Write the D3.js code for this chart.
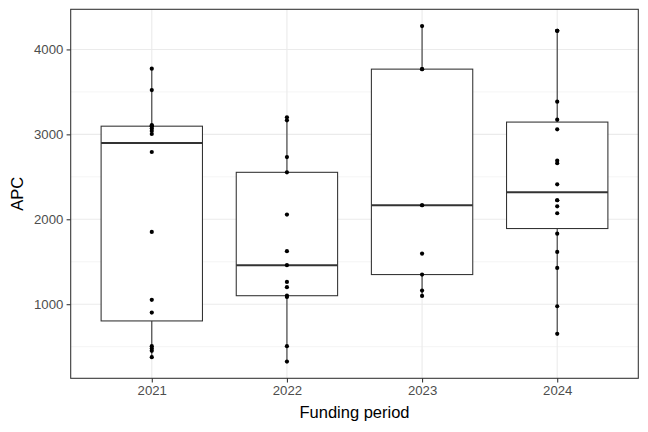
<!DOCTYPE html>
<html>
<head>
<meta charset="utf-8">
<script src="https://cdn.jsdelivr.net/npm/d3@7"></script>
<style>
  html, body { margin: 0; padding: 0; background: #fff; }
  svg { display: block; font-family: "Liberation Sans", Arial, Helvetica, sans-serif; }
</style>
</head>
<body>
<svg id="chart" width="648" height="432"></svg>
<script>
// ---- data ----
const categories = ["2021", "2022", "2023", "2024"];
const apc2021 = [3773, 3521, 3110, 3100, 3095, 3070, 3040, 3004, 2792, 1851, 1051, 902, 506, 478, 451, 376];
const apc2022 = [3200, 3165, 2733, 2553, 2055, 1624, 1459, 1262, 1200, 1100, 1085, 506, 325];
const apc2023 = [4275, 3768, 3768, 2165, 2165, 1596, 1349, 1161, 1098];
const apc2024 = [4220, 4220, 4220, 3385, 3173, 3059, 2690, 2660, 2412, 2224, 2224, 2153, 2071, 1831, 1616, 1427, 976, 651];
const yTicks = [1000, 2000, 3000, 4000];
const yMinorTicks = [500, 1500, 2500, 3500];
const xTitle = "Funding period";
const yTitle = "APC";

const seriesValues = [apc2021, apc2022, apc2023, apc2024];

// ---- layout ----
const W = 648, H = 432;
const panel = { left: 70.7, right: 638.3, top: 9.3, bottom: 378.3 };

const svg = d3.select("#chart");

// y scale with ggplot-like 5% expansion
const allVals = seriesValues.flat();
const [vmin, vmax] = d3.extent(allVals);
const pad = (vmax - vmin) * 0.05;
const y = d3.scaleLinear().domain([vmin - pad, vmax + pad]).range([panel.bottom, panel.top]);

// x: discrete with 0.6 unit expansion on each side
const n = categories.length;
const unit = (panel.right - panel.left) / (n - 1 + 1.2);
const x = d3.scalePoint().domain(categories).range([panel.left + 0.6 * unit, panel.right - 0.6 * unit]);
const boxW = 0.75 * unit;

// panel background
svg.append("rect").attr("x", panel.left).attr("y", panel.top)
  .attr("width", panel.right - panel.left).attr("height", panel.bottom - panel.top)
  .attr("fill", "#fff");

const grid = svg.append("g");
// minor y grid
grid.selectAll("line.minor").data(yMinorTicks).join("line")
  .attr("x1", panel.left).attr("x2", panel.right)
  .attr("y1", d => y(d)).attr("y2", d => y(d))
  .attr("stroke", "#ebebeb").attr("stroke-width", 0.55);
// major y grid
grid.selectAll("line.majy").data(yTicks).join("line")
  .attr("x1", panel.left).attr("x2", panel.right)
  .attr("y1", d => y(d)).attr("y2", d => y(d))
  .attr("stroke", "#ebebeb").attr("stroke-width", 1.1);
// major x grid
grid.selectAll("line.majx").data(categories).join("line")
  .attr("x1", d => x(d)).attr("x2", d => x(d))
  .attr("y1", panel.top).attr("y2", panel.bottom)
  .attr("stroke", "#ebebeb").attr("stroke-width", 1.1);

// box statistics computed from the data
const stats = categories.map((c, i) => {
  const v = seriesValues[i].slice().sort(d3.ascending);
  const q1 = d3.quantile(v, 0.25), med = d3.quantile(v, 0.5), q3 = d3.quantile(v, 0.75);
  const iqr = q3 - q1;
  const lo = d3.min(v.filter(d => d >= q1 - 1.5 * iqr));
  const hi = d3.max(v.filter(d => d <= q3 + 1.5 * iqr));
  return { c, q1, med, q3, lo, hi };
});

const boxes = svg.append("g");
const bg = boxes.selectAll("g").data(stats).join("g");
bg.append("line")
  .attr("x1", d => x(d.c)).attr("x2", d => x(d.c))
  .attr("y1", d => y(d.hi)).attr("y2", d => y(d.q3))
  .attr("stroke", "#333333").attr("stroke-width", 1.07);
bg.append("line")
  .attr("x1", d => x(d.c)).attr("x2", d => x(d.c))
  .attr("y1", d => y(d.q1)).attr("y2", d => y(d.lo))
  .attr("stroke", "#333333").attr("stroke-width", 1.07);
bg.append("rect")
  .attr("x", d => x(d.c) - boxW / 2).attr("width", boxW)
  .attr("y", d => y(d.q3)).attr("height", d => y(d.q1) - y(d.q3))
  .attr("fill", "#fff").attr("stroke", "#333333").attr("stroke-width", 1.07);
bg.append("line")
  .attr("x1", d => x(d.c) - boxW / 2).attr("x2", d => x(d.c) + boxW / 2)
  .attr("y1", d => y(d.med)).attr("y2", d => y(d.med))
  .attr("stroke", "#333333").attr("stroke-width", 2.1);

// points
const pts = categories.flatMap((c, i) => seriesValues[i].map(v => ({ c, v })));
svg.append("g").selectAll("circle").data(pts).join("circle")
  .attr("cx", d => x(d.c)).attr("cy", d => y(d.v)).attr("r", 2.1)
  .attr("fill", "#000");

// panel border
svg.append("rect").attr("x", panel.left).attr("y", panel.top)
  .attr("width", panel.right - panel.left).attr("height", panel.bottom - panel.top)
  .attr("fill", "none").attr("stroke", "#333333").attr("stroke-width", 1.07);

// axes
const yAxis = d3.axisLeft(y).tickValues(yTicks).tickSize(4.1).tickPadding(3.3).tickFormat(d3.format("d"));
const gy = svg.append("g").attr("transform", `translate(${panel.left},0)`).call(yAxis);
gy.select(".domain").remove();
gy.selectAll(".tick line").attr("stroke", "#333333").attr("stroke-width", 1.07);
gy.selectAll(".tick text").attr("fill", "#4d4d4d").attr("font-size", 13.2)
  .attr("font-family", "Liberation Sans, Arial, sans-serif");

const xAxis = d3.axisBottom(x).tickSize(4.1).tickPadding(3.3);
const gx = svg.append("g").attr("transform", `translate(0,${panel.bottom})`).call(xAxis);
gx.select(".domain").remove();
gx.selectAll(".tick line").attr("stroke", "#333333").attr("stroke-width", 1.07);
gx.selectAll(".tick text").attr("fill", "#4d4d4d").attr("font-size", 13.2)
  .attr("font-family", "Liberation Sans, Arial, sans-serif");

// titles
svg.append("text").attr("x", (panel.left + panel.right) / 2).attr("y", 418.3)
  .attr("text-anchor", "middle").attr("font-size", 16.5).attr("fill", "#000")
  .text(xTitle);
svg.append("text")
  .attr("transform", `translate(23.3,${(panel.top + panel.bottom) / 2}) rotate(-90)`)
  .attr("text-anchor", "middle").attr("font-size", 16.5).attr("fill", "#000")
  .text(yTitle);
</script>
</body>
</html>
